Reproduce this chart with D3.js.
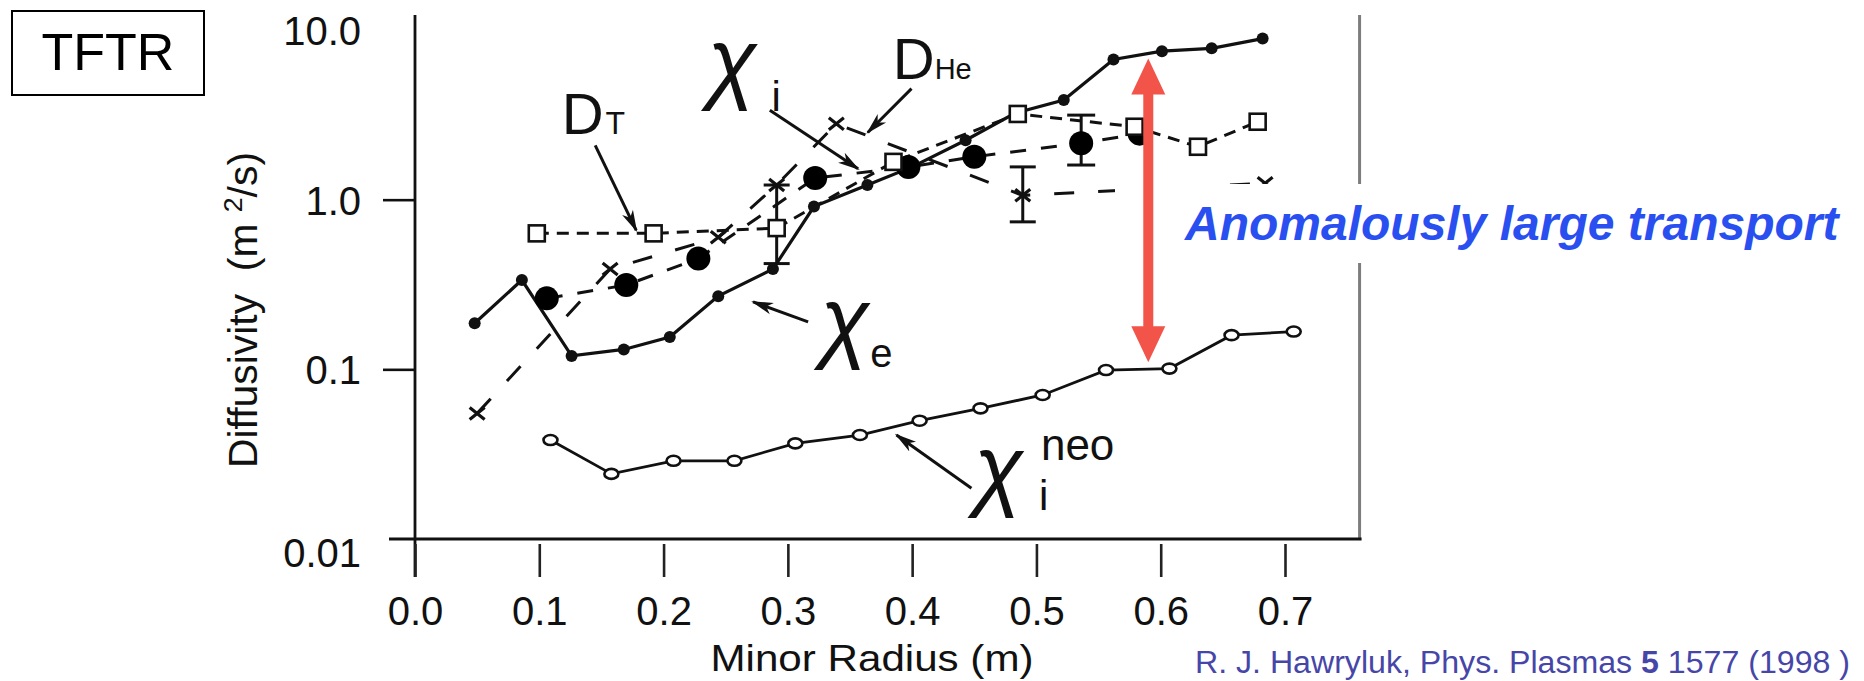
<!DOCTYPE html>
<html><head><meta charset="utf-8">
<script src="https://cdn.jsdelivr.net/npm/d3@7/dist/d3.min.js"></script>
<style>body{margin:0;background:#fff}svg{display:block}text{font-family:"Liberation Sans",Arial,sans-serif}</style>
</head><body>
<svg id="chart" width="1864" height="681"></svg>
<script>
// ---------------- data ----------------
const xTickValues = [0, 0.1, 0.2, 0.3, 0.4, 0.5, 0.6, 0.7];
const xTickLabels = ["0.0", "0.1", "0.2", "0.3", "0.4", "0.5", "0.6", "0.7"];
const yTickValues = [0.01, 0.1, 1, 10];
const yTickLabels = ["0.01", "0.1", "1.0", "10.0"];

// chi_e : small filled dots, solid line
const chiE_r = [0.048, 0.086, 0.126, 0.168, 0.205, 0.244, 0.288, 0.321, 0.364, 0.400, 0.443, 0.483, 0.522, 0.562, 0.601, 0.641, 0.682];
const chiE_v = [0.187, 0.336, 0.120, 0.131, 0.155, 0.27, 0.39, 0.91, 1.22, 1.56, 2.24, 3.24, 3.87, 6.7, 7.5, 7.8, 8.9];

// chi_i : large filled dots, short dashes
const chiI_r = [0.106, 0.170, 0.228, 0.322, 0.397, 0.450, 0.536, 0.583];
const chiI_v = [0.262, 0.314, 0.45, 1.34, 1.56, 1.79, 2.15, 2.45];
const chiI_errR = [0.536];
const chiI_errLo = [1.6];
const chiI_errHi = [3.15];

// D_T : open squares, short dashes
const dT_r = [0.098, 0.192, 0.291, 0.385, 0.485, 0.579, 0.630, 0.678];
const dT_v = [0.633, 0.633, 0.68, 1.67, 3.2, 2.69, 2.05, 2.88];

// D_He : crosses, long dashes
const dHe_r = [0.050, 0.157, 0.244, 0.291, 0.339, 0.489, 0.684];
const dHe_v = [0.055, 0.39, 0.60, 1.22, 2.8, 1.06, 1.25];
const dHe_errR = [0.291, 0.489];
const dHe_errLo = [0.42, 0.74];
const dHe_errHi = [1.22, 1.56];

// chi_i^neo : open circles, solid line
const chiNeo_r = [0.109, 0.158, 0.208, 0.257, 0.306, 0.358, 0.406, 0.455, 0.505, 0.556, 0.607, 0.657, 0.707];
const chiNeo_v = [0.0383, 0.0242, 0.0289, 0.0289, 0.0366, 0.041, 0.0498, 0.0589, 0.0706, 0.099, 0.101, 0.159, 0.167];

// annotation anchors, in data units
const redArrowR = 0.59, redArrowTop = 6.8, redArrowBottom = 0.11;

// ---------------- chart ----------------
const svg = d3.select("#chart");
const x = d3.scaleLinear().domain([0, 0.7]).range([415, 1285]);
const y = d3.scaleLog().domain([0.01, 10]).range([539, 30]);
const xRight = x(0.76), yTop = 15, yBottom = y(0.01), xLeft = x(0);
const ink = "#111";

const defs = svg.append("defs");
const grad = defs.append("linearGradient").attr("id", "topGrad").attr("x1", "0").attr("x2", "1").attr("y1", "0").attr("y2", "0");
grad.append("stop").attr("offset", "0").attr("stop-color", "#8c8c8c");
grad.append("stop").attr("offset", "0.3").attr("stop-color", "#7a7a7a");
grad.append("stop").attr("offset", "0.55").attr("stop-color", "#333");
grad.append("stop").attr("offset", "1").attr("stop-color", "#000");
defs.append("marker").attr("id", "ah").attr("markerUnits", "userSpaceOnUse")
  .attr("viewBox", "0 0 22 14").attr("markerWidth", 22).attr("markerHeight", 14)
  .attr("refX", 20).attr("refY", 7).attr("orient", "auto")
  .append("path").attr("d", "M0,1 L22,7 L0,13 L6,7 z").attr("fill", ink);

// frame
const frame = svg.append("g");
frame.append("line").attr("x1", xLeft - 20).attr("x2", xRight + 28).attr("y1", yTop).attr("y2", yTop)
  .attr("stroke", "url(#topGrad)").attr("stroke-width", 4.5);
frame.append("line").attr("x1", xRight).attr("x2", xRight).attr("y1", yTop).attr("y2", yBottom)
  .attr("stroke", "#7d7d7d").attr("stroke-width", 3);
frame.append("line").attr("x1", xLeft).attr("x2", xLeft).attr("y1", yTop).attr("y2", yBottom + 38)
  .attr("stroke", ink).attr("stroke-width", 2.8);
frame.append("line").attr("x1", xLeft - 26).attr("x2", xRight + 2).attr("y1", yBottom).attr("y2", yBottom)
  .attr("stroke", ink).attr("stroke-width", 3);

// axes
const xAxis = d3.axisBottom(x).tickValues(xTickValues).tickSize(38).tickPadding(20)
  .tickFormat((d, i) => xTickLabels[i]);
const gx = svg.append("g").attr("transform", `translate(0,${yBottom})`).call(xAxis);
gx.select(".domain").remove();
gx.selectAll(".tick line").attr("stroke", "#222").attr("stroke-width", 2.6).attr("y1", 5);
gx.selectAll(".tick text").attr("font-size", 40).attr("fill", "#111").attr("font-family", "Liberation Sans");

const yAxis = d3.axisLeft(y).tickValues(yTickValues).tickSize(32).tickPadding(22)
  .tickFormat((d, i) => yTickLabels[i]);
const gy = svg.append("g").attr("transform", `translate(${xLeft},0)`).call(yAxis);
gy.select(".domain").remove();
gy.selectAll(".tick line").attr("stroke", ink).attr("stroke-width", 2.6)
  .attr("display", d => (d === 10 || d === 0.01) ? "none" : null);
gy.selectAll(".tick text").attr("font-size", 40).attr("fill", "#111").attr("font-family", "Liberation Sans")
  .attr("dy", d => d === 0.01 ? "0.68em" : "0.36em");

// axis titles
svg.append("text").attr("x", (x(0) + x(0.7)) / 2 + 22).attr("y", 671).attr("text-anchor", "middle")
  .attr("font-size", 37).attr("textLength", 323).attr("lengthAdjust", "spacingAndGlyphs")
  .attr("fill", "#111").text("Minor Radius (m)");
const yl = svg.append("text").attr("transform", "translate(257,310) rotate(-90)").attr("text-anchor", "middle")
  .attr("font-size", 40).attr("textLength", 316).attr("lengthAdjust", "spacingAndGlyphs")
  .attr("fill", "#111").style("white-space", "pre");
yl.append("tspan").text("Diffusivity  (m ");
yl.append("tspan").attr("font-size", 26).attr("dy", -15).text("2");
yl.append("tspan").attr("dy", 15).text("/s)");

// ---------------- series ----------------
const zip = (a, b) => a.map((v, i) => [v, b[i]]);
const line = d3.line().x(d => x(d[0])).y(d => y(d[1]));
const plot = svg.append("g");

plot.append("path").datum(zip(chiNeo_r, chiNeo_v)).attr("d", line).attr("fill", "none")
  .attr("stroke", ink).attr("stroke-width", 2.8);
plot.append("path").datum(zip(chiE_r, chiE_v)).attr("d", line).attr("fill", "none")
  .attr("stroke", ink).attr("stroke-width", 3.2);
plot.append("path").datum(zip(chiI_r, chiI_v)).attr("d", line).attr("fill", "none")
  .attr("stroke", ink).attr("stroke-width", 3).attr("stroke-dasharray", "16,15");
plot.append("path").datum(zip(dT_r, dT_v)).attr("d", line).attr("fill", "none")
  .attr("stroke", ink).attr("stroke-width", 3).attr("stroke-dasharray", "12,8");
plot.append("path").datum(zip(dHe_r, dHe_v)).attr("d", line).attr("fill", "none")
  .attr("stroke", ink).attr("stroke-width", 3).attr("stroke-dasharray", "20,24");

// error bars
function errBars(rs, lo, hi, cap) {
  rs.forEach((r, i) => {
    const g = plot.append("g").attr("stroke", ink).attr("stroke-width", 3);
    g.append("line").attr("x1", x(r)).attr("x2", x(r)).attr("y1", y(lo[i])).attr("y2", y(hi[i]));
    g.append("line").attr("x1", x(r) - cap).attr("x2", x(r) + cap).attr("y1", y(lo[i])).attr("y2", y(lo[i]));
    g.append("line").attr("x1", x(r) - cap).attr("x2", x(r) + cap).attr("y1", y(hi[i])).attr("y2", y(hi[i]));
  });
}
errBars(chiI_errR, chiI_errLo, chiI_errHi, 14);
errBars(dHe_errR, dHe_errLo, dHe_errHi, 13);

// markers
plot.selectAll(".neo").data(zip(chiNeo_r, chiNeo_v)).join("ellipse")
  .attr("cx", d => x(d[0])).attr("cy", d => y(d[1])).attr("rx", 7).attr("ry", 5)
  .attr("fill", "#fff").attr("stroke", ink).attr("stroke-width", 2.6);
plot.selectAll(".ce").data(zip(chiE_r, chiE_v)).join("circle")
  .attr("cx", d => x(d[0])).attr("cy", d => y(d[1])).attr("r", 6).attr("fill", ink);
plot.selectAll(".ci").data(zip(chiI_r, chiI_v)).join("circle")
  .attr("cx", d => x(d[0])).attr("cy", d => y(d[1])).attr("r", 12).attr("fill", "#000");
plot.selectAll(".dhe").data(zip(dHe_r, dHe_v)).join("path")
  .attr("d", d => { const cx = x(d[0]), cy = y(d[1]), s = 7.5;
    return `M${cx - s},${cy - s * 0.8}L${cx + s},${cy + s * 0.8}M${cx + s},${cy - s * 0.8}L${cx - s},${cy + s * 0.8}`; })
  .attr("stroke", ink).attr("stroke-width", 3.2).attr("fill", "none");
plot.selectAll(".dt").data(zip(dT_r, dT_v)).join("rect")
  .attr("x", d => x(d[0]) - 8).attr("y", d => y(d[1]) - 8).attr("width", 16).attr("height", 16)
  .attr("fill", "#fff").attr("stroke", ink).attr("stroke-width", 2.6);

// ---------------- annotations ----------------
const ann = svg.append("g");
function arrow(r1, v1, r2, v2) {
  ann.append("line").attr("x1", x(r1)).attr("y1", y(v1)).attr("x2", x(r2)).attr("y2", y(v2))
    .attr("stroke", ink).attr("stroke-width", 3).attr("marker-end", "url(#ah)");
}
arrow(0.145, 2.09, 0.178, 0.66);     // D_T
arrow(0.2855, 3.36, 0.3565, 1.52);   // chi_i
arrow(0.3995, 4.51, 0.3643, 2.49);   // D_He
arrow(0.3163, 0.1905, 0.272, 0.25);  // chi_e
arrow(0.4477, 0.0199, 0.3874, 0.041);// chi_i^neo

function dLabel(r, v, sub, subSize, dx) {
  const t = ann.append("text").attr("x", x(r)).attr("y", y(v)).attr("font-size", 58).attr("fill", ink);
  t.append("tspan").text("D");
  t.append("tspan").attr("dx", dx).attr("font-size", subSize).text(sub);
}
dLabel(0.118, 2.45, "T", 32, 2);
dLabel(0.3844, 5.16, "He", 29, 0);

function chi(r, v) {
  return ann.append("text").attr("x", x(r)).attr("y", y(v)).attr("font-size", 90)
    .attr("font-family", "DejaVu Sans").attr("font-style", "oblique").attr("fill", ink).text("χ");
}
function small(r, v, dx, dy, size, s) {
  ann.append("text").attr("x", x(r) + dx).attr("y", y(v) + dy).attr("font-size", size).attr("fill", ink).text(s);
}
chi(0.2353, 4.3); small(0.2353, 4.3, 64, 19, 42, "i");
chi(0.3261, 0.128); small(0.3261, 0.128, 50, 16, 40, "e");
chi(0.4497, 0.0172); small(0.4497, 0.0172, 67, -39, 44, "neo"); small(0.4497, 0.0172, 65, 11, 42, "i");

// white box + highlight text
svg.append("rect").attr("x", 1115).attr("y", 184).attr("width", 740).attr("height", 79).attr("fill", "#fff");
svg.append("text").attr("x", 1185).attr("y", 240).attr("font-size", 48).attr("font-weight", "bold")
  .attr("font-style", "italic").attr("fill", "#2a4ff0").text("Anomalously large transport");

// red double arrow
const red = "#f2544a";
const ax = x(redArrowR), ayT = y(redArrowTop), ayB = y(redArrowBottom), hl = 36, hw = 17;
svg.append("rect").attr("x", ax - 5).attr("y", ayT + hl - 2).attr("width", 10).attr("height", ayB - ayT - 2 * hl + 4).attr("fill", red);
svg.append("path").attr("d", `M${ax},${ayT}L${ax + hw},${ayT + hl}L${ax - hw},${ayT + hl}Z`).attr("fill", red);
svg.append("path").attr("d", `M${ax},${ayB}L${ax + hw},${ayB - hl}L${ax - hw},${ayB - hl}Z`).attr("fill", red);

// TFTR box
svg.append("rect").attr("x", 12).attr("y", 11).attr("width", 192).attr("height", 84)
  .attr("fill", "none").attr("stroke", "#000").attr("stroke-width", 2);
svg.append("text").attr("x", 108).attr("y", 70).attr("text-anchor", "middle").attr("font-size", 52).attr("fill", "#000").text("TFTR");

// citation
const cit = svg.append("text").attr("x", 1850).attr("y", 673).attr("text-anchor", "end")
  .attr("font-size", 31).attr("textLength", 655).attr("lengthAdjust", "spacingAndGlyphs").attr("fill", "#4646a8");
cit.append("tspan").text("R. J. Hawryluk, Phys. Plasmas ");
cit.append("tspan").attr("font-weight", "bold").text("5");
cit.append("tspan").text(" 1577 (1998 )");
</script>
</body></html>
